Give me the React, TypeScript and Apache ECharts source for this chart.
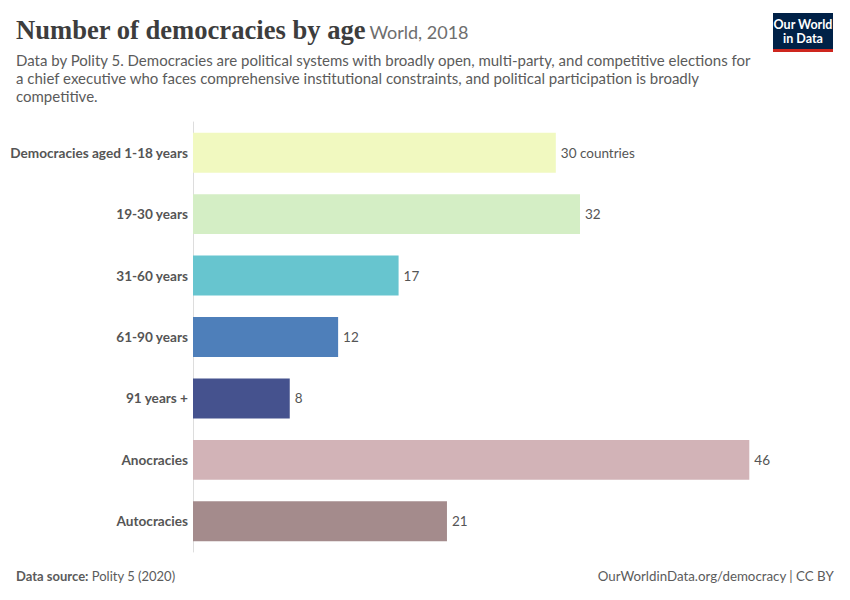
import React, { useEffect, useRef } from "react";
import * as echarts from "echarts";

const categories = [
  "Democracies aged 1-18 years",
  "19-30 years",
  "31-60 years",
  "61-90 years",
  "91 years +",
  "Anocracies",
  "Autocracies",
];
const values = [30, 32, 17, 12, 8, 46, 21];
const colors = ["#f1f9c0", "#d4eec5", "#67c5cf", "#4e7fba", "#45528e", "#d2b3b7", "#a48b8c"];
const subtitleLines = [
  "Data by Polity 5. Democracies are political systems with broadly open, multi-party, and competitive elections for",
  "a chief executive who faces comprehensive institutional constraints, and political participation is broadly",
  "competitive.",
];

export default function App() {
  const ref = useRef<HTMLDivElement>(null);
  useEffect(() => {
    document.body.style.margin = "0";
    const chart = echarts.init(ref.current!, null, { renderer: "svg" });
    const option: any = {
      animation: false,
      backgroundColor: "#ffffff",
      grid: { left: 193, right: 100.7, top: 122, bottom: 48 },
      xAxis: {
        type: "value",
        min: 0,
        max: 46,
        show: false,
        splitLine: { show: false },
      },
      yAxis: {
        type: "category",
        data: categories,
        inverse: true,
        axisLine: { show: true, lineStyle: { color: "#dddddd", width: 1 } },
        axisTick: { show: false },
        axisLabel: {
          margin: 5,
          fontFamily: "Lato",
          fontWeight: "bold",
          fontSize: 13.6,
          color: "#555555",
        },
      },
      series: [
        {
          type: "bar",
          barCategoryGap: "35%",
          data: values.map((v, i) => ({ value: v, itemStyle: { color: colors[i] } })),
          label: {
            show: true,
            position: "right",
            distance: 5,
            fontFamily: "Lato",
            fontSize: 13.5,
            color: "#555555",
            formatter: (p: any) => (p.dataIndex === 0 ? `${p.value} countries` : `${p.value}`),
          },
        },
      ],
      graphic: [
        {
          type: "text",
          left: 16,
          top: 16,
          style: {
            text: "{t|Number of democracies by age} {s|World, 2018}",
            rich: {
              t: { fontFamily: "Liberation Serif", fontSize: 26.6, fontWeight: "bold", fill: "#3d3d3d" },
              s: { fontFamily: "Lato", fontSize: 18, fill: "#6e6e6e", padding: [5, 0, 0, 0] },
            },
          },
        },
        ...subtitleLines.map((l, i) => ({
          type: "text",
          left: 16,
          top: 52 + i * 18,
          style: { text: l, fontFamily: "Lato", fontSize: 15, fill: "#5b5b5b" },
        })),
        {
          type: "text",
          left: 16,
          top: 569,
          style: {
            text: "{b|Data source:} {n|Polity 5 (2020)}",
            rich: {
              b: { fontFamily: "Lato", fontSize: 13, fontWeight: "bold", fill: "#5b5b5b" },
              n: { fontFamily: "Lato", fontSize: 13, fill: "#5b5b5b" },
            },
          },
        },
        {
          type: "text",
          right: 16,
          top: 569,
          style: { text: "OurWorldinData.org/democracy | CC BY", fontFamily: "Lato", fontSize: 13.3, fill: "#5b5b5b" },
        },
        { type: "rect", shape: { x: 773, y: 13, width: 60, height: 36 }, style: { fill: "#002147" } },
        { type: "rect", shape: { x: 773, y: 49, width: 60, height: 3 }, style: { fill: "#ce261e" } },
        {
          type: "text",
          x: 803,
          y: 31,
          style: {
            text: "Our World\nin Data",
            fontFamily: "Lato",
            fontSize: 12.5,
            fontWeight: "bold",
            lineHeight: 14,
            fill: "#ffffff",
            align: "center",
            verticalAlign: "middle",
          },
        },
      ],
    };
    chart.setOption(option);
    return () => chart.dispose();
  }, []);
  return <div ref={ref} style={{ width: 850, height: 600 }} />;
}
